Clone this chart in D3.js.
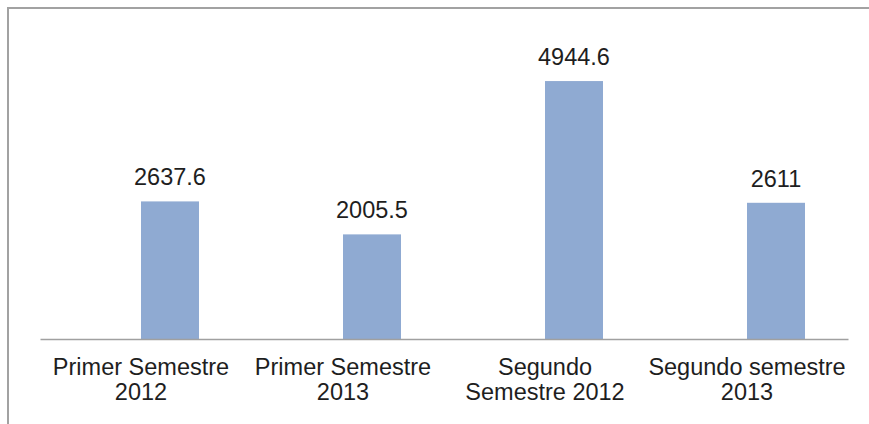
<!DOCTYPE html>
<html>
<head>
<meta charset="utf-8">
<script src="https://cdn.jsdelivr.net/npm/d3@7"></script>
<style>
  html, body { margin: 0; padding: 0; background: #fff; overflow: hidden; }
  svg { display: block; font-family: "Liberation Sans", Arial, sans-serif; }
</style>
</head>
<body>
<script>
// datos del grafico
const categorias = ['Primer Semestre 2012', 'Primer Semestre 2013', 'Segundo Semestre 2012', 'Segundo semestre 2013']
const valores = [2637.6, 2005.5, 4944.6, 2611]
const etiquetas = [
    ['Primer Semestre', '2012'],
    ['Primer Semestre', '2013'],
    ['Segundo', 'Semestre 2012'],
    ['Segundo semestre', '2013']
]

const w = 869
const h = 424

const svg = d3.select('body')
    .append('svg')
    .attr('width', w)
    .attr('height', h)

// marco del grafico (se sale por la derecha y abajo)
svg.append('rect')
    .attr('x', 8)
    .attr('y', 8)
    .attr('width', 900)
    .attr('height', 500)
    .style('fill', 'none')
    .style('stroke', '#a2a2a2')
    .style('stroke-width', 2)

// escalas
const xScale = d3.scaleBand()
    .domain(categorias)
    .range([40, 848])

const yScale = d3.scaleLinear()
    .domain([0, 6000])
    .range([339, 26])

// dos series como en Excel, la primera vacia
const xSub = d3.scaleBand()
    .domain(['vacia', 'valor'])
    .range([0, xScale.bandwidth() * 116 / 202])

const offset = xScale.bandwidth() / 2 - xSub.range()[1] / 2

// barras
svg.selectAll('rect.bar')
    .data(valores)
    .enter()
    .append('rect')
    .attr('class', 'bar')
    .attr('x', (d, i) => xScale(categorias[i]) + offset + xSub('valor'))
    .attr('y', d => yScale(d))
    .attr('width', xSub.bandwidth())
    .attr('height', d => yScale(0) - yScale(d))
    .style('fill', '#8faad2')

// etiquetas de valor
svg.selectAll('text.valor')
    .data(valores)
    .enter()
    .append('text')
    .attr('class', 'valor')
    .attr('x', (d, i) => xScale(categorias[i]) + offset + xSub('valor') + xSub.bandwidth() / 2)
    .attr('y', d => yScale(d) - 16)
    .attr('text-anchor', 'middle')
    .style('font-size', '23.5px')
    .style('fill', '#1e1e1e')
    .text(d => d)

// eje x
const xAxis = d3.axisBottom(xScale).tickSize(0).tickSizeOuter(0).tickFormat('')

const gx = svg.append('g')
    .attr('transform', `translate(0,${yScale(0)})`)
    .call(xAxis)

gx.select('.domain')
    .style('stroke', '#a0a0a0')
    .style('stroke-width', 1.5)

gx.selectAll('.tick').each(function (d, i) {
    const t = d3.select(this).append('text')
        .attr('text-anchor', 'middle')
        .style('font-size', '23.5px')
        .style('fill', '#1e1e1e')
    etiquetas[i].forEach((line, j) => {
        t.append('tspan')
            .attr('x', 0)
            .attr('y', 36 + j * 25)
            .text(line)
    })
})
</script>
</body>
</html>
